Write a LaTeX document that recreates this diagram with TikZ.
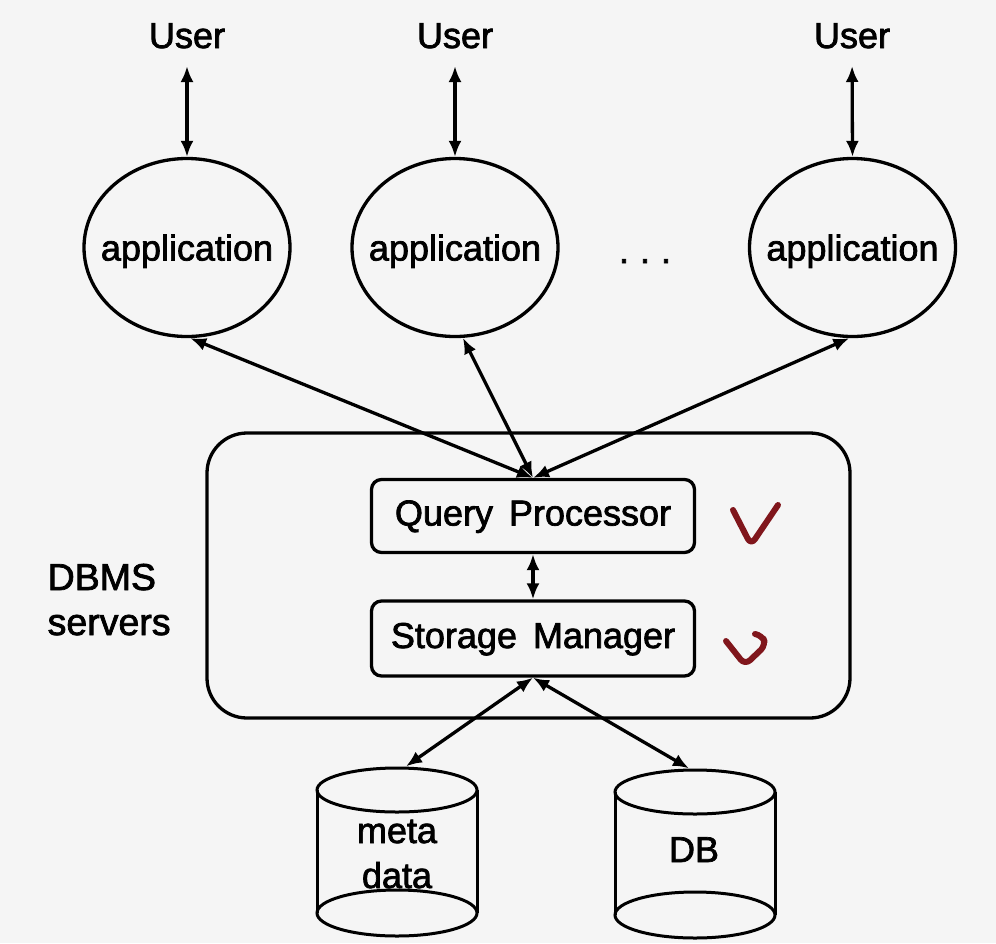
\documentclass[tikz,border=0pt]{standalone}
\usepackage{fontspec}
\setmainfont[FakeBold=2]{Liberation Sans}
\usetikzlibrary{arrows.meta,shapes.geometric}
\definecolor{bgc}{HTML}{F5F5F5}
\definecolor{checkred}{RGB}{128,22,28}
\newcommand{\bigfont}{\fontsize{36}{42}\selectfont}
\begin{document}
\begin{tikzpicture}[x=1pt,y=-1pt, line width=3.3pt,
  >={Latex[length=16pt,width=13pt]},
  appnode/.style={ellipse, draw, minimum width=206pt, minimum height=178pt, inner sep=0pt, font=\bigfont, text height=26pt, text depth=0pt},
  procbox/.style={rectangle, rounded corners=10pt, draw, minimum width=323pt, font=\bigfont, text height=26pt, text depth=7pt, inner sep=0pt},
  lbl/.style={font=\bigfont, inner sep=0pt},
  conn/.style={<->},
  checkmark/.style={draw=checkred, line width=6pt, line cap=round, line join=round, rounded corners=7pt},
  cyl/.style={line width=3pt}]
\fill[bgc] (0,0) rectangle (996,943);
\useasboundingbox (0,0) rectangle (996,943);

% users
\node[lbl, anchor=base] (u1) at (187,48) {User};
\node[lbl, anchor=base] (u2) at (455,48) {User};
\node[lbl, anchor=base] (u3) at (852,48) {User};

% applications
\node[appnode] (app1) at (187,247.5) {\makebox[0pt]{application}};
\node[appnode] (app2) at (455,247.5) {\makebox[0pt]{application}};
\node[appnode] (app3) at (852.5,247.5) {\makebox[0pt]{application}};
\node[lbl, anchor=base] (dots) at (645,263) {.\hspace{11pt}.\hspace{11pt}.};

\draw[conn, shorten <=18pt] (u1.base) -- (app1.north);
\draw[conn, shorten <=18pt] (u2.base) -- (app2.north);
\draw[conn, shorten <=18pt] (u3.base) -- (app3.north);

% DBMS
\node[draw, rounded corners=40pt, minimum width=643pt, minimum height=285pt, inner sep=0pt] (dbms) at (528.5,575.5) {};
\node[procbox, minimum height=73pt] (qp) at (533,516) {Query\hspace{6pt} Processor};
\node[procbox, minimum height=75pt] (sm) at (533,638.5) {Storage\hspace{6pt} Manager};
\node[lbl, anchor=base west, font=\fontsize{37.5}{42}\selectfont] (dbmsl) at (46,590) {DBMS};
\node[lbl, anchor=base west, font=\fontsize{37.5}{42}\selectfont] (servl) at (46,635) {servers};

\draw[conn] (app1.-88) -- (qp.north);
\draw[conn] (app2.-85) -- (qp.north);
\draw[conn] (app3.-92.5) -- (qp.north);
\draw[conn] (qp.south) -- (sm.north);

% check marks
\draw[checkmark] (733,510) -- (751,545) -- (778,505);
\draw[checkmark] (726,641) -- (745,665) -- (766,645) -- (762,635) -- (755,634);

% cylinders
\node[inner sep=0pt, minimum width=160pt, minimum height=170pt] (meta) at (397,853) {};
\node[inner sep=0pt, minimum width=160pt, minimum height=170pt] (db) at (695,855) {};
\coordinate (mtop) at ([xshift=9pt]meta.north);
\coordinate (dtop) at ([xshift=-6pt]db.north);

\draw[cyl] (397,790) ellipse [x radius=80pt, y radius=22pt];
\draw[cyl] (317,790) -- (317,913);
\draw[cyl] (477,790) -- (477,913);
\draw[cyl] (397,913) ellipse [x radius=80pt, y radius=23pt];

\draw[cyl] (695,792) ellipse [x radius=80pt, y radius=22pt];
\draw[cyl] (615,792) -- (615,915);
\draw[cyl] (775,792) -- (775,915);
\draw[cyl] (695,915) ellipse [x radius=80pt, y radius=23pt];

\node[lbl, anchor=base] (metat) at (397,843) {meta};
\node[lbl, anchor=base] (datat) at (397,888) {data};
\node[lbl, anchor=base] (dbt) at (694,862) {DB};

\draw[conn] (sm.south) -- (mtop);
\draw[conn] (sm.south) -- (dtop);
\end{tikzpicture}
\end{document}
